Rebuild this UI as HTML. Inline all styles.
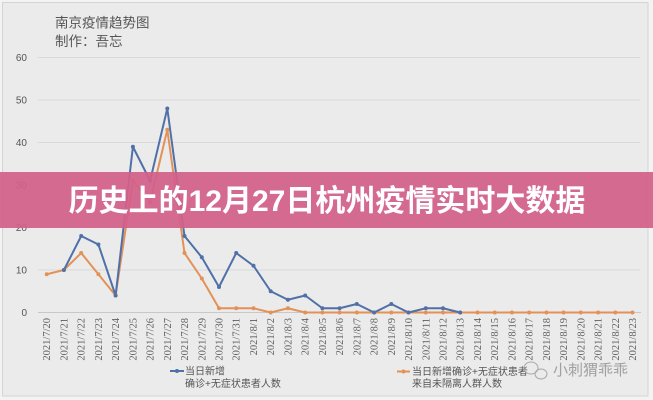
<!DOCTYPE html>
<html><head><meta charset="utf-8"><style>
html,body{margin:0;padding:0;background:#f3f3f3;}
svg{display:block;}
</style></head><body>
<svg width="653" height="400" viewBox="0 0 653 400" xmlns="http://www.w3.org/2000/svg">
<rect x="0" y="0" width="653" height="400" fill="#f3f3f3"/>
<rect x="2.5" y="2.5" width="645.5" height="393.5" fill="#ebebeb" stroke="#d4d4d4" stroke-width="1"/>
<g font-family="'Liberation Sans','Noto Sans CJK SC',sans-serif" fill="#555">
<text x="55" y="27.5" font-size="13.5">南京疫情趋势图</text>
<text x="55" y="46" font-size="13.5">制作：吾忘</text>
</g>
<!-- gridlines -->
<g stroke="#d9d9d9" stroke-width="1">
<line x1="38" y1="57.5" x2="640" y2="57.5"/>
<line x1="38" y1="100" x2="640" y2="100"/>
<line x1="38" y1="142.5" x2="640" y2="142.5"/>
<line x1="38" y1="185" x2="640" y2="185"/>
<line x1="38" y1="227.5" x2="640" y2="227.5"/>
<line x1="38" y1="270" x2="640" y2="270"/>
</g>
<line x1="38" y1="312.5" x2="641" y2="312.5" stroke="#c8c8c8" stroke-width="1"/>
<g font-family="'Liberation Sans',sans-serif" font-size="10" fill="#555" text-anchor="end">
<text x="27" y="61">60</text>
<text x="27" y="103.5">50</text>
<text x="27" y="146">40</text>
<text x="27" y="188.5">30</text>
<text x="27" y="231">20</text>
<text x="27" y="273.5">10</text>
<text x="27" y="316">0</text>
</g>
<!-- x labels -->
<g font-family="'Liberation Serif',serif" font-size="10.5" fill="#5e5e5e" text-anchor="end">
<text transform="translate(50.2,318) rotate(-90)">2021/7/20</text>
<text transform="translate(67.4,318) rotate(-90)">2021/7/21</text>
<text transform="translate(84.7,318) rotate(-90)">2021/7/22</text>
<text transform="translate(101.9,318) rotate(-90)">2021/7/23</text>
<text transform="translate(119.1,318) rotate(-90)">2021/7/24</text>
<text transform="translate(136.4,318) rotate(-90)">2021/7/25</text>
<text transform="translate(153.6,318) rotate(-90)">2021/7/26</text>
<text transform="translate(170.8,318) rotate(-90)">2021/7/27</text>
<text transform="translate(188,318) rotate(-90)">2021/7/28</text>
<text transform="translate(205.3,318) rotate(-90)">2021/7/29</text>
<text transform="translate(222.5,318) rotate(-90)">2021/7/30</text>
<text transform="translate(239.7,318) rotate(-90)">2021/7/31</text>
<text transform="translate(257,318) rotate(-90)">2021/8/1</text>
<text transform="translate(274.2,318) rotate(-90)">2021/8/2</text>
<text transform="translate(291.4,318) rotate(-90)">2021/8/3</text>
<text transform="translate(308.7,318) rotate(-90)">2021/8/4</text>
<text transform="translate(325.9,318) rotate(-90)">2021/8/5</text>
<text transform="translate(343.1,318) rotate(-90)">2021/8/6</text>
<text transform="translate(360.3,318) rotate(-90)">2021/8/7</text>
<text transform="translate(377.6,318) rotate(-90)">2021/8/8</text>
<text transform="translate(394.8,318) rotate(-90)">2021/8/9</text>
<text transform="translate(412,318) rotate(-90)">2021/8/10</text>
<text transform="translate(429.3,318) rotate(-90)">2021/8/11</text>
<text transform="translate(446.5,318) rotate(-90)">2021/8/12</text>
<text transform="translate(463.7,318) rotate(-90)">2021/8/13</text>
<text transform="translate(481,318) rotate(-90)">2021/8/14</text>
<text transform="translate(498.2,318) rotate(-90)">2021/8/15</text>
<text transform="translate(515.4,318) rotate(-90)">2021/8/16</text>
<text transform="translate(532.6,318) rotate(-90)">2021/8/17</text>
<text transform="translate(549.9,318) rotate(-90)">2021/8/18</text>
<text transform="translate(567.1,318) rotate(-90)">2021/8/19</text>
<text transform="translate(584.3,318) rotate(-90)">2021/8/20</text>
<text transform="translate(601.6,318) rotate(-90)">2021/8/21</text>
<text transform="translate(618.8,318) rotate(-90)">2021/8/22</text>
<text transform="translate(636,318) rotate(-90)">2021/8/23</text>
</g>
<!-- orange series -->
<polyline fill="none" stroke="#e39257" stroke-width="2" stroke-linejoin="round" points="46.7,274.25 63.9,270 81.2,253 98.4,274.25 115.6,295.5 132.9,180.75 150.1,202 167.3,129.75 184.5,253 201.8,278.5 219,308.25 236.2,308.25 253.5,308.25 270.7,312.5 287.9,308.25 305.2,312.5 322.4,312.5 339.6,312.5 356.8,312.5 374.1,312.5 391.3,312.5 408.5,312.5 425.8,312.5 443,312.5 460.2,312.5 477.5,312.5 494.7,312.5 511.9,312.5 529.1,312.5 546.4,312.5 563.6,312.5 580.8,312.5 598.1,312.5 615.3,312.5 632.5,312.5"/>
<!-- blue series -->
<polyline fill="none" stroke="#5070a8" stroke-width="2" stroke-linejoin="round" points="63.9,270 81.2,236 98.4,244.5 115.6,295.5 132.9,146.75 150.1,180.75 167.3,108.5 184.5,236 201.8,257.25 219,287 236.2,253 253.5,265.75 270.7,291.25 287.9,299.75 305.2,295.5 322.4,308.25 339.6,308.25 356.8,304 374.1,312.5 391.3,304 408.5,312.5 425.8,308.25 443,308.25 460.2,312.5"/>
<g fill="#e39257">
<circle cx="46.7" cy="274.25" r="2"/><circle cx="63.9" cy="270" r="2"/><circle cx="81.2" cy="253" r="2"/><circle cx="98.4" cy="274.25" r="2"/><circle cx="115.6" cy="295.5" r="2"/><circle cx="132.9" cy="180.75" r="2"/><circle cx="150.1" cy="202" r="2"/><circle cx="167.3" cy="129.75" r="2"/><circle cx="184.5" cy="253" r="2"/><circle cx="201.8" cy="278.5" r="2"/><circle cx="219" cy="308.25" r="2"/><circle cx="236.2" cy="308.25" r="2"/><circle cx="253.5" cy="308.25" r="2"/><circle cx="270.7" cy="312.5" r="2"/><circle cx="287.9" cy="308.25" r="2"/><circle cx="305.2" cy="312.5" r="2"/><circle cx="322.4" cy="312.5" r="2"/><circle cx="339.6" cy="312.5" r="2"/><circle cx="356.8" cy="312.5" r="2"/><circle cx="374.1" cy="312.5" r="2"/><circle cx="391.3" cy="312.5" r="2"/><circle cx="408.5" cy="312.5" r="2"/><circle cx="425.8" cy="312.5" r="2"/><circle cx="443" cy="312.5" r="2"/><circle cx="460.2" cy="312.5" r="2"/><circle cx="477.5" cy="312.5" r="2"/><circle cx="494.7" cy="312.5" r="2"/><circle cx="511.9" cy="312.5" r="2"/><circle cx="529.1" cy="312.5" r="2"/><circle cx="546.4" cy="312.5" r="2"/><circle cx="563.6" cy="312.5" r="2"/><circle cx="580.8" cy="312.5" r="2"/><circle cx="598.1" cy="312.5" r="2"/><circle cx="615.3" cy="312.5" r="2"/><circle cx="632.5" cy="312.5" r="2"/>
</g>
<g fill="#5070a8">
<circle cx="63.9" cy="270" r="2"/><circle cx="81.2" cy="236" r="2"/><circle cx="98.4" cy="244.5" r="2"/><circle cx="115.6" cy="295.5" r="2"/><circle cx="132.9" cy="146.75" r="2"/><circle cx="150.1" cy="180.75" r="2"/><circle cx="167.3" cy="108.5" r="2"/><circle cx="184.5" cy="236" r="2"/><circle cx="201.8" cy="257.25" r="2"/><circle cx="219" cy="287" r="2"/><circle cx="236.2" cy="253" r="2"/><circle cx="253.5" cy="265.75" r="2"/><circle cx="270.7" cy="291.25" r="2"/><circle cx="287.9" cy="299.75" r="2"/><circle cx="305.2" cy="295.5" r="2"/><circle cx="322.4" cy="308.25" r="2"/><circle cx="339.6" cy="308.25" r="2"/><circle cx="356.8" cy="304" r="2"/><circle cx="374.1" cy="312.5" r="2"/><circle cx="391.3" cy="304" r="2"/><circle cx="408.5" cy="312.5" r="2"/><circle cx="425.8" cy="308.25" r="2"/><circle cx="443" cy="308.25" r="2"/><circle cx="460.2" cy="312.5" r="2"/>
</g>
<!-- legend -->
<line x1="170" y1="371" x2="184" y2="371" stroke="#5070a8" stroke-width="2"/>
<circle cx="177" cy="371" r="2" fill="#5070a8"/>
<line x1="397" y1="371.5" x2="410" y2="371.5" stroke="#e39257" stroke-width="2"/>
<circle cx="403.5" cy="371.5" r="2" fill="#e39257"/>
<g font-family="'Liberation Sans','Noto Sans CJK SC',sans-serif" font-size="10" fill="#555">
<text x="185" y="374.5">当日新增</text>
<text x="185" y="387">确诊+无症状患者人数</text>
<text x="412" y="375">当日新增确诊+无症状患者</text>
<text x="412" y="387">来自未隔离人群人数</text>
</g>
<!-- watermark -->
<g fill="none" stroke="#a8a8a8" stroke-width="1">
<ellipse cx="531" cy="368" rx="7" ry="6"/>
<ellipse cx="541" cy="374" rx="6" ry="5"/>
</g>
<text x="553" y="375" font-family="'Liberation Sans','Noto Sans CJK SC',sans-serif" font-size="15" fill="#a0a0a0">小刺猬乖乖</text>
<!-- banner -->
<rect x="0" y="172" width="653" height="56" fill="#d3608a" fill-opacity="0.93"/>
<text x="327" y="211" text-anchor="middle" font-family="'Liberation Sans','Noto Sans CJK SC',sans-serif" font-size="30" font-weight="bold" fill="#ffffff">历史上的12月27日杭州疫情实时大数据</text>
</svg>
</body></html>
